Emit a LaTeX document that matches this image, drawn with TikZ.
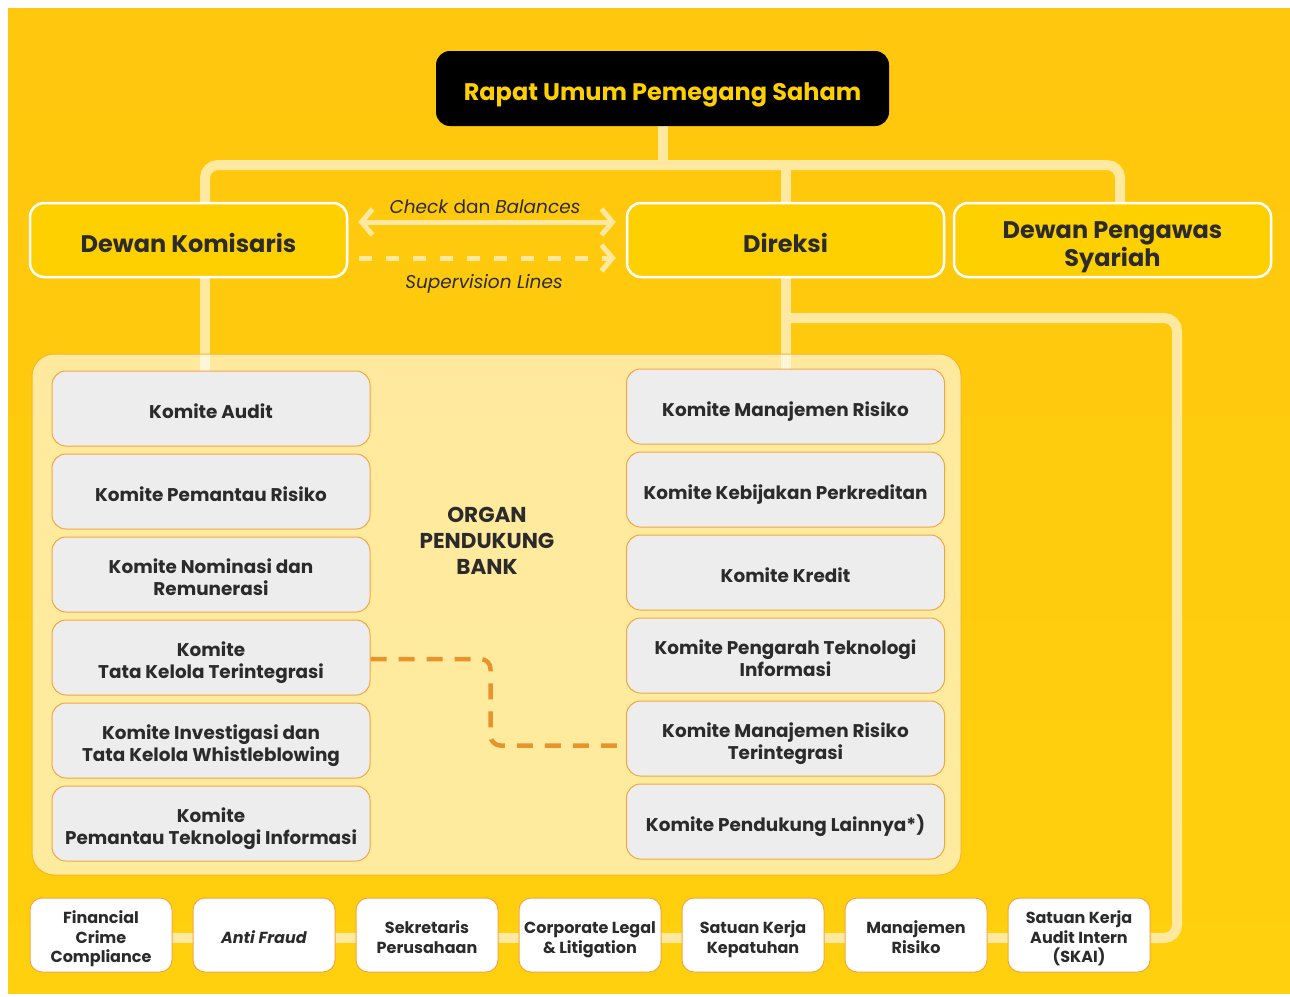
\documentclass[tikz,border=0pt]{standalone}
\usepackage{fontspec}
\setmainfont{Poppins}
\usetikzlibrary{arrows.meta,calc,positioning}
\definecolor{bgyellow}{HTML}{FFCB0E}
\definecolor{boxyellow}{HTML}{FFD000}
\definecolor{linkpale}{HTML}{FFE9A0}
\definecolor{komgray}{HTML}{EDEDED}
\definecolor{komborder}{HTML}{F2A541}
\definecolor{dashorange}{HTML}{E8932C}
\definecolor{inkdark}{HTML}{2B2B2B}
\pgfdeclarelayer{back}
\pgfdeclarelayer{lines}
\pgfdeclarelayer{panel}
\pgfsetlayers{back,lines,panel,main}
\tikzset{%
  >={Straight Barb[length=11pt,width=26pt]},
  % Specifications for style of nodes:
  base/.style = {rectangle, rounded corners=14pt, align=center,
    text=inkdark, inner sep=2pt},
  board/.style = {base, fill=boxyellow, draw=white, line width=2.5pt,
    minimum width=317pt, minimum height=74pt,
    text height=28.4pt, text depth=3.6pt,
    font=\fontsize{24}{28}\selectfont\bfseries},
  komite/.style = {base, fill=komgray, draw=komborder, line width=1pt,
    minimum width=318pt, minimum height=75pt,
    text height=22.6pt, text depth=2.7pt,
    font=\fontsize{18.4}{22}\selectfont\bfseries},
  komite2/.style = {komite, text height=44.6pt},
  unit/.style = {base, rounded corners=12pt, fill=white, draw=komborder,
    line width=1pt, minimum width=142pt, minimum height=74pt,
    text height=19.2pt, text depth=2.4pt,
    font=\fontsize{16}{19.5}\selectfont\bfseries},
  unit2/.style = {unit, text height=38.7pt},
  unit3/.style = {unit, text height=58.2pt},
  link/.style = {draw=linkpale, line width=10pt, rounded corners=13pt},
  checkline/.style = {draw=linkpale, line width=5pt},
  dashlink/.style = {draw=dashorange, line width=4.5pt,
    dash pattern=on 16pt off 12pt, rounded corners=10pt},
}
\begin{document}
\begin{tikzpicture}[x=1pt,y=-1pt]
  \useasboundingbox (0,0) rectangle (1290,996);
  \begin{pgfonlayer}{back}
    \fill[white] (0,0) rectangle (1290,996);
    \shade[top color=bgyellow!94!orange, bottom color=bgyellow!90!yellow]
      (8,8) rectangle (1290,993);
  \end{pgfonlayer}
  % Top level
  \node(rups)[base, fill=black, text=boxyellow, minimum width=453pt,
    minimum height=75pt, text height=28.4pt, text depth=3.6pt,
    font=\fontsize{24}{28}\selectfont\bfseries]
    at (662.5,88.5) {Rapat Umum Pemegang Saham};
  \node(dk)[board] at (188.5,240) {Dewan Komisaris};
  \node(direksi)[board] at (785.5,240) {Direksi};
  \node(dps)[board, text height=56.4pt] at (1112.5,240) {Dewan Pengawas\\Syariah};
  % Organ pendukung
  \begin{pgfonlayer}{panel}
    \node(organ)[rectangle, rounded corners=22pt, fill=white,
      fill opacity=.6, draw=komborder!60!boxyellow, line width=1pt,
      minimum width=929pt, minimum height=521pt] at (496.5,614.5) {};
  \end{pgfonlayer}
  \node(organlabel)[text=inkdark, align=center,
    font=\fontsize{21.5}{26}\selectfont\bfseries] at (487,541)
    {ORGAN\\PENDUKUNG\\BANK};
  \node(ka)[komite] at (211,408.5) {Komite Audit};
  \node(kpr)[komite, below=7pt of ka] {Komite Pemantau Risiko};
  \node(knr)[komite2, below=7pt of kpr] {Komite Nominasi dan\\Remunerasi};
  \node(tata)[komite2, below=7pt of knr] {Komite\\Tata Kelola Terintegrasi};
  \node(kiw)[komite2, below=7pt of tata] {Komite Investigasi dan\\Tata Kelola Whistleblowing};
  \node(kpti)[komite2, below=7pt of kiw] {Komite\\Pemantau Teknologi Informasi};
  \node(kmr)[komite] at (785.5,406.5) {Komite Manajemen Risiko};
  \node(kkp)[komite, below=7pt of kmr] {Komite Kebijakan Perkreditan};
  \node(kk)[komite, below=7pt of kkp] {Komite Kredit};
  \node(kpt)[komite2, below=7pt of kk] {Komite Pengarah Teknologi\\Informasi};
  \node(mrt)[komite2, below=7pt of kpt] {Komite Manajemen Risiko\\Terintegrasi};
  \node(kpl)[komite, below=7pt of mrt] {Komite Pendukung Lainnya*)};
  % Satuan kerja
  \node(fcc)[unit3] at (101,935) {Financial\\Crime\\Compliance};
  \node(af)[unit, right=20pt of fcc] {\textit{Anti Fraud}};
  \node(sekper)[unit2, right=20pt of af] {Sekretaris\\Perusahaan};
  \node(legal)[unit2, right=20pt of sekper] {Corporate Legal\\\& Litigation};
  \node(skk)[unit2, right=20pt of legal] {Satuan Kerja\\Kepatuhan};
  \node(mr)[unit2, right=20pt of skk] {Manajemen\\Risiko};
  \node(skai)[unit3, right=20pt of mr] {Satuan Kerja\\Audit Intern\\(SKAI)};
  % Labels of the arrows
  \node(cb)[text=inkdark, font=\fontsize{18.5}{20}\selectfont] at (485,207)
    {\textit{Check} dan \textit{Balances}};
  \node(sl)[text=inkdark, font=\fontsize{18.5}{20}\selectfont] at (484,284)
    {\textit{Supervision Lines}};
  \draw[checkline,<->] ([shift={(10,-18)}]dk.east) -- ([shift={(-10,-18)}]direksi.west);
  \draw[checkline,->, dash pattern=on 13pt off 14pt]
    ([shift={(11,18)}]dk.east) -- ([shift={(-10,18)}]direksi.west);
  \draw[dashlink] ([yshift=-1.5pt]tata.east) -- ++(120,0) |- ([yshift=-7pt]mrt.west);
  % Connectors
  \coordinate (busL) at (205,165);
  \coordinate (busR) at (1120,165);
  \coordinate (skaiturn) at (1177,318);
  \begin{pgfonlayer}{lines}
    \draw[link] (busL |- dk.north) -- (busL) -- (busR) -- (busR |- dps.north);
    \draw[link] (rups.south) -- (rups.south |- busL);
    \draw[link] (direksi.north) -- (direksi.north |- busL);
    \draw[link] (busL |- dk.south) -- (busL |- ka.north);
    \draw[link] (direksi.south) -- (kmr.north);
    \draw[link] (direksi.south |- skaiturn) -- (skaiturn) |- ([yshift=-3pt]skai.east);
    \draw[link] ([yshift=-3pt]fcc.center) -- ([yshift=-3pt]skai.center);
  \end{pgfonlayer}
\end{tikzpicture}
\end{document}
